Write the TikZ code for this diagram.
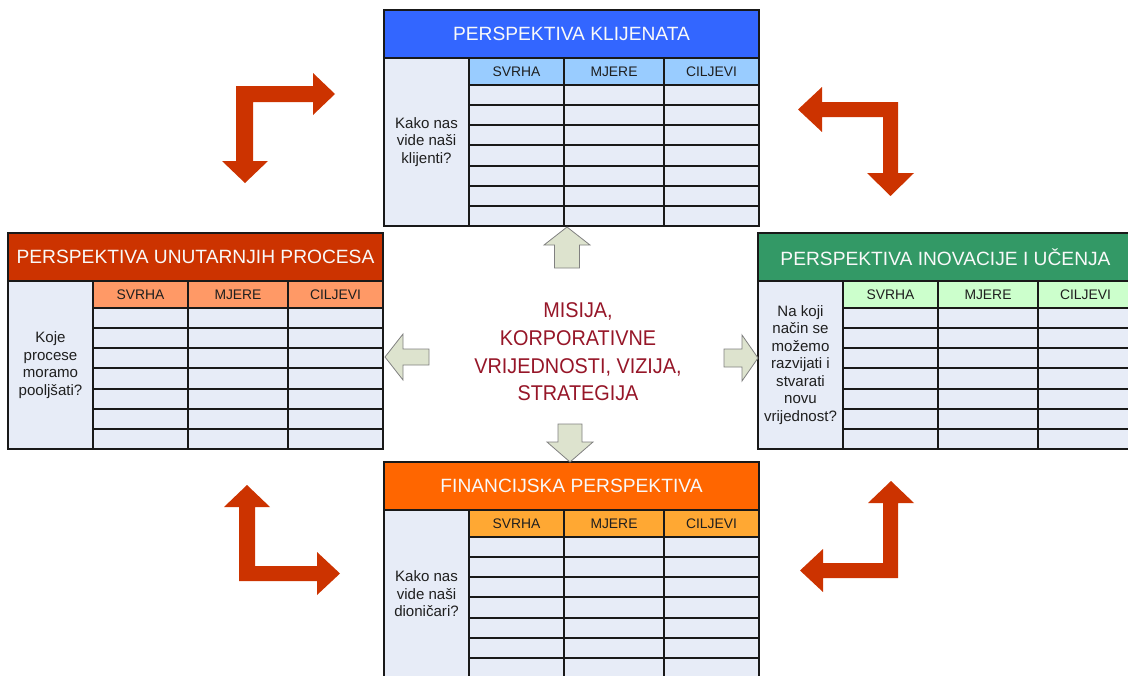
\documentclass[tikz,border=0pt]{standalone}
\usepackage{fontspec}
\setmainfont{Liberation Sans}
\newfontfamily\missionfont[FakeStretch=0.93]{Liberation Sans}
\usepackage{tikz}
\usetikzlibrary{calc, positioning}
\definecolor{titleBlue}{RGB}{51,102,255}
\definecolor{headBlue}{RGB}{153,204,255}
\definecolor{titleRed}{RGB}{204,51,0}
\definecolor{headSalmon}{RGB}{255,153,102}
\definecolor{titleGreen}{RGB}{51,153,102}
\definecolor{headGreen}{RGB}{204,255,204}
\definecolor{titleOrange}{RGB}{255,102,0}
\definecolor{headOrange}{RGB}{255,168,51}
\definecolor{cellFill}{RGB}{231,236,247}
\definecolor{arrowRed}{RGB}{204,51,0}
\definecolor{paleArrow}{RGB}{221,227,206}
\definecolor{missionRed}{RGB}{150,22,40}
\definecolor{textDark}{gray}{0.12}

% one perspective: name, left, top, title colour, header colour, title, question
\newcommand{\bscpanel}[7]{%
  \begin{scope}[shift={(#2,#3)}]
    \fill[cellFill] (0,48) rectangle (375,216);
    \fill[#4] (0,0) rectangle (375,48);
    \fill[#5] (85,48) rectangle (375,75);
    \node[titleText] (#1-title) at (187.5,24) {#6};
    \node[questionText] (#1-question) at (42.5,132) {#7};
    \foreach \x/\lab [count=\i] in {132.5/SVRHA,230/MJERE,327.5/CILJEVI}
      \node[headText] (#1-head\i) at (\x,61.5) {\lab};
    \foreach \k in {0,...,6}
      \draw[gridLine] (85,{75+\k*20.14}) -- (375,{75+\k*20.14});
    \draw[gridLine] (0,48) -- (375,48);
    \draw[gridLine] (85,48) -- (85,216) (180,48) -- (180,216) (280,48) -- (280,216);
    \draw[gridLine] (0,0) rectangle (375,216);
  \end{scope}}

\begin{document}
\begin{tikzpicture}[x=0.75pt, y=-0.75pt,
    titleText/.style={font=\fontsize{14.4}{17}\selectfont, text=white!95!gray},
    headText/.style={font=\fontsize{10.4}{12}\selectfont, text=textDark},
    questionText/.style={align=center, font=\fontsize{11.3}{13.1}\selectfont, text=textDark},
    centreText/.style={align=center, font=\missionfont\fontsize{16}{20.7}\selectfont, text=missionRed},
    gridLine/.style={line width=1.5pt, black!90},
    bendArrow/.style={fill=arrowRed},
    smallArrow/.style={fill=paleArrow, draw=gray, line width=0.6pt, line join=miter}]
    \useasboundingbox (0,0) rectangle (1128,675);
    \clip (0,0) rectangle (1128,675);

    % Perspectives
    \bscpanel{client}{384}{10}{titleBlue}{headBlue}{PERSPEKTIVA KLIJENATA}{Kako nas\\vide naši\\klijenti?}
    \bscpanel{process}{8}{233}{titleRed}{headSalmon}{PERSPEKTIVA UNUTARNJIH PROCESA}{Koje\\procese\\moramo\\pooljšati?}
    \bscpanel{learning}{758}{233}{titleGreen}{headGreen}{PERSPEKTIVA INOVACIJE I UČENJA}{Na koji\\način se\\možemo\\razvijati i\\stvarati\\novu\\vrijednost?}
    \bscpanel{finance}{384}{462}{titleOrange}{headOrange}{FINANCIJSKA PERSPEKTIVA}{Kako nas\\vide naši\\dioničari?}

    \node[centreText] (mission) at (578,352) {MISIJA,\\KORPORATIVNE\\VRIJEDNOSTI, VIZIJA,\\STRATEGIJA};

    % Arrows from the centre
    \draw[smallArrow] (567,227) -- (590,245) -- (579.5,245) -- (579.5,268) -- (554.5,268) -- (554.5,245) -- (544,245) -- cycle;
    \draw[smallArrow] (570,462) -- (593,442) -- (582,442) -- (582,424) -- (558,424) -- (558,442) -- (547,442) -- cycle;
    \draw[smallArrow] (385,357) -- (403,334) -- (403,349) -- (429,349) -- (429,365) -- (403,365) -- (403,380) -- cycle;
    \draw[smallArrow] (758,358) -- (742,335) -- (742,349) -- (724,349) -- (724,367) -- (742,367) -- (742,381) -- cycle;

    % Bent arrows
    \fill[bendArrow] (236,86) -- (313,86) -- (313,73) -- (335,94) -- (313,115) -- (313,102) -- (253,102) -- (253,161) -- (268,161) -- (245,183) -- (222,161) -- (236,161) -- cycle;
    \fill[bendArrow] (898,102) -- (898,173) -- (914,173) -- (890.5,196) -- (867,173) -- (883,173) -- (883,117) -- (822,117) -- (822,132) -- (798,109.5) -- (822,87) -- (822,102) -- cycle;
    \fill[bendArrow] (239,581) -- (239,507) -- (224,507) -- (247,485) -- (270,507) -- (255,507) -- (255,566) -- (317,566) -- (317,552) -- (340,573.5) -- (317,595) -- (317,581) -- cycle;
    \fill[bendArrow] (898,578) -- (823,578) -- (823,592) -- (800,570.5) -- (823,549) -- (823,563) -- (883,563) -- (883,503) -- (868,503) -- (891,481) -- (914,503) -- (898,503) -- cycle;
\end{tikzpicture}
\end{document}
